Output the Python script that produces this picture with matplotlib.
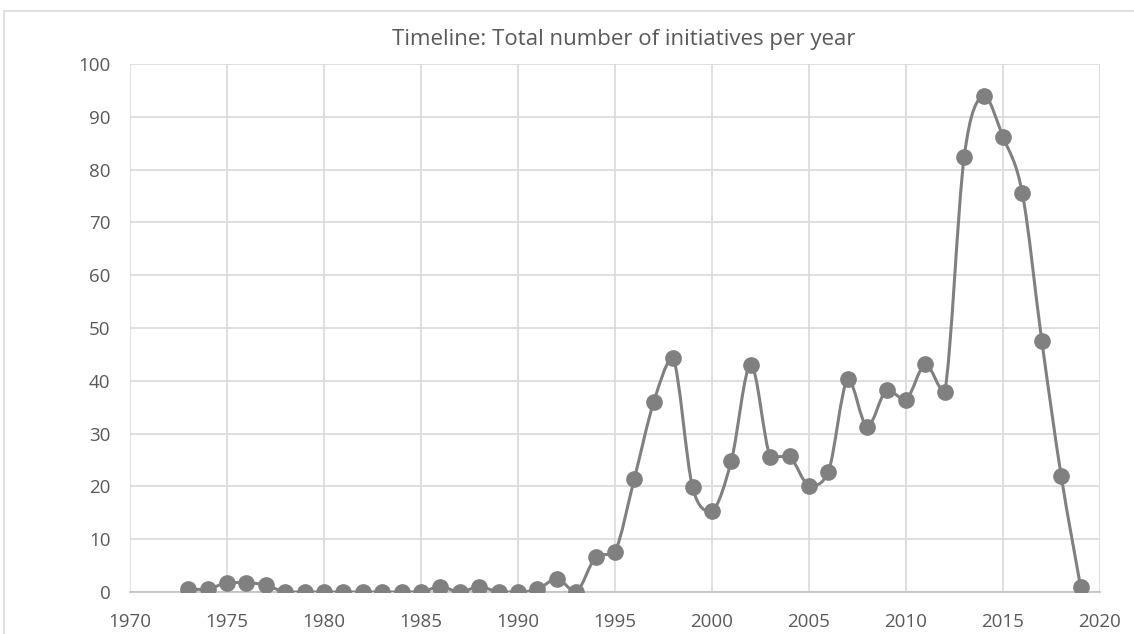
import numpy as np
import matplotlib
matplotlib.use("Agg")
import matplotlib.pyplot as plt
from matplotlib.path import Path
from matplotlib.patches import PathPatch, Rectangle

years = list(range(1973, 2020))
counts = [0.5, 0.5, 1.8, 1.8, 1.3, 0, 0, 0, 0, 0, 0, 0, 0, 1.0, 0, 1.0, 0, 0,
          0.5, 2.5, 0, 6.6, 7.6, 21.5, 36.0, 44.3, 19.8, 15.3, 24.9, 43.0,
          25.6, 25.7, 20.1, 22.7, 40.4, 31.3, 38.3, 36.4, 43.1, 37.9, 82.4,
          94.0, 86.2, 75.5, 47.6, 22.0, 1.0]

x_ticks = list(range(1970, 2021, 5))
y_ticks = list(range(0, 101, 10))

GREY = "#808080"
TEXT = "#595959"
GRID = "#d9d9d9"

plt.rcParams["font.family"] = ["Open Sans", "DejaVu Sans"]


def smooth_path(xs, ys, tension=1 / 6):
    """Cardinal spline through the points, as cubic Bezier segments.
    Control points are kept within each segment's y-range so flat
    stretches and sharp turns do not overshoot."""
    pts = np.column_stack([xs, ys]).astype(float)
    n = len(pts)
    verts = [pts[0]]
    codes = [Path.MOVETO]
    for i in range(n - 1):
        p0 = pts[i - 1] if i > 0 else pts[i]
        p1 = pts[i]
        p2 = pts[i + 1]
        p3 = pts[i + 2] if i + 2 < n else pts[i + 1]
        c1 = p1 + (p2 - p0) * tension
        c2 = p2 - (p3 - p1) * tension
        lo, hi = min(p1[1], p2[1]), max(p1[1], p2[1])
        c1[1] = np.clip(c1[1], lo, hi)
        c2[1] = np.clip(c2[1], lo, hi)
        verts += [c1, c2, p2]
        codes += [Path.CURVE4] * 3
    return Path(verts, codes)


fig = plt.figure(figsize=(11.34, 6.34), dpi=100)
ax = fig.add_axes([0.1146, 0.0662, 0.8554, 0.8328])

ax.add_patch(PathPatch(smooth_path(years, counts), fill=False,
                       edgecolor=GREY, lw=2.2, zorder=3))
ax.plot(years, counts, "o", color=GREY, ms=11, zorder=4)

ax.set_xlim(1970, 2020)
ax.set_ylim(0, 100)
ax.set_xticks(x_ticks)
ax.set_yticks(y_ticks)
ax.grid(True, color=GRID, lw=1.2)
ax.set_axisbelow(True)
for side in ("top", "right", "left"):
    ax.spines[side].set_visible(False)
ax.spines["bottom"].set_color("#bfbfbf")
ax.spines["bottom"].set_linewidth(1.2)
ax.tick_params(length=0, labelsize=13.5, labelcolor=TEXT)
ax.tick_params(axis="x", pad=15)
ax.tick_params(axis="y", pad=14)

fig.text(0.55, 0.937, "Timeline: Total number of initiatives per year",
         ha="center", va="center", fontsize=16, color=TEXT)

# chart frame
fig.add_artist(Rectangle((4 / 1134, -0.1), 1.0, 1.1 - 11 / 634,
                         transform=fig.transFigure, fill=False,
                         edgecolor=GRID, lw=1.2, clip_on=False))

fig.savefig("out.png", dpi=100)
